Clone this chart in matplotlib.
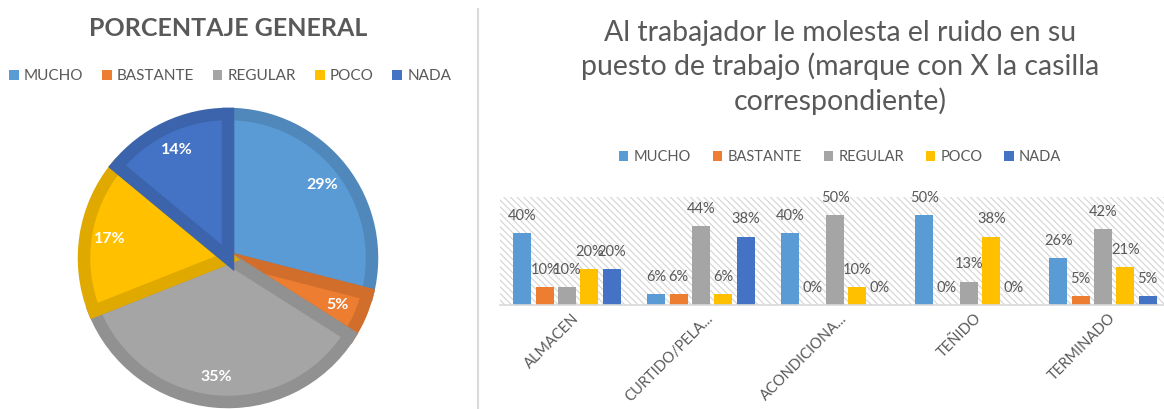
import numpy as np
import matplotlib
matplotlib.use("Agg")
import matplotlib.pyplot as plt
import matplotlib.transforms as mtransforms
from matplotlib.patches import Patch, Rectangle
from matplotlib.lines import Line2D
from matplotlib.colors import to_rgb

# ── data ──────────────────────────────────────────────────────────────────────
series_names = ["MUCHO", "BASTANTE", "REGULAR", "POCO", "NADA"]
series_colors = ["#5B9BD5", "#ED7D31", "#A5A5A5", "#FFC000", "#4472C4"]

pie_values = [29, 5, 35, 17, 14]

categories = ["ALMACEN", "CURTIDO/PELA...", "ACONDICIONA...", "TEÑIDO", "TERMINADO"]
mucho    = [40, 6, 40, 50, 26]
bastante = [10, 6, 0, 0, 5]
regular  = [10, 44, 50, 13, 42]
poco     = [20, 6, 10, 38, 21]
nada     = [20, 38, 0, 0, 5]

bar_title = ["Al trabajador le molesta el ruido en su",
             "puesto de trabajo (marque con X la casilla",
             "correspondiente)"]

TEXT = "#595959"
W, H = 1164, 409

plt.rcParams["font.family"] = ["Lato", "DejaVu Sans"]
plt.rcParams["hatch.linewidth"] = 0.8

fig = plt.figure(figsize=(W / 100, H / 100), dpi=100)


def darker(c, f=0.88):
    r, g, b = to_rgb(c)
    return (r * f, g * f, b * f)


# ── pie ───────────────────────────────────────────────────────────────────────
cx, cy, rad = 228, 258, 144
ax_pie = fig.add_axes([(cx - rad) / W, (H - cy - rad) / H, 2 * rad / W, 2 * rad / H])
wedges, _, autotexts = ax_pie.pie(
    pie_values, colors=series_colors, startangle=90, counterclock=False,
    radius=1, autopct=lambda p: f"{p:.0f}%", pctdistance=0.83,
    textprops=dict(color="white", fontsize=11.5, fontweight="bold"),
)
for w, c in zip(wedges, series_colors):
    w.set_edgecolor(darker(c))
    w.set_linewidth(9)
    w.set_clip_path(w)
ax_pie.set_xlim(-1, 1)
ax_pie.set_ylim(-1, 1)
ax_pie.set_aspect("equal")

fig.text(228 / W, 1 - 28 / H, "PORCENTAJE GENERAL", ha="center", va="center",
         fontsize=18, fontweight="bold", color=TEXT)

handles = [Patch(facecolor=c, edgecolor="none", label=n)
           for n, c in zip(series_names, series_colors)]
fig.legend(handles=handles, loc="center", bbox_to_anchor=(230 / W, 1 - 76 / H),
           ncol=5, frameon=False, fontsize=11, labelcolor=TEXT,
           handlelength=0.65, handleheight=0.65, handletextpad=0.35,
           columnspacing=1.2, borderaxespad=0, borderpad=0)

# separator
fig.add_artist(Line2D([478 / W, 478 / W], [0, 1 - 9 / H], color="#d9d9d9", lw=1.5))

# ── bar chart ─────────────────────────────────────────────────────────────────
x0, base, top = 500, 305, 197
step = 134
ax = fig.add_axes([x0 / W, (H - base) / H, 5 * step / W, (base - top) / H])
ax.set_xlim(-0.5, len(categories) - 0.5)
ax.set_ylim(0, 60)
ax.add_patch(Rectangle((0, 0), 1, 1, transform=ax.transAxes, facecolor="white",
                       edgecolor="#d4d4d4", hatch="\\\\\\\\\\", linewidth=0, zorder=0))

x = np.arange(len(categories))
bstep, bw = 0.1664, 0.134
for j, (vals, c) in enumerate(zip([mucho, bastante, regular, poco, nada], series_colors)):
    xs = x + (j - 2) * bstep
    ax.bar(xs, vals, width=bw, color=c, zorder=2)
    for xi, v in zip(xs, vals):
        ax.annotate(f"{v}%", (xi, v), xytext=(0, 9.5), textcoords="offset points",
                    ha="center", va="baseline", fontsize=10.5, color=TEXT)

for s in ["top", "right", "left"]:
    ax.spines[s].set_visible(False)
ax.spines["bottom"].set_color("#d9d9d9")
ax.spines["bottom"].set_linewidth(1.2)
ax.set_yticks([])
ax.set_xticks(x)
ax.set_xticklabels(categories, rotation=45, ha="right", va="center",
                   rotation_mode="anchor", fontsize=10.5, color=TEXT)
ax.tick_params(axis="x", length=0, pad=8)
shift = mtransforms.ScaledTranslation(10 / 100, 0, fig.dpi_scale_trans)
for lbl in ax.get_xticklabels():
    lbl.set_transform(lbl.get_transform() + shift)

for line, yb in zip(bar_title, [41, 75.5, 110]):
    fig.text(840 / W, 1 - yb / H, line, ha="center", va="baseline",
             fontsize=20.5, color=TEXT)

fig.legend(handles=handles, loc="center", bbox_to_anchor=(840 / W, 1 - 157 / H),
           ncol=5, frameon=False, fontsize=10.5, labelcolor=TEXT,
           handlelength=0.65, handleheight=0.65, handletextpad=0.35,
           columnspacing=1.5, borderaxespad=0, borderpad=0)

fig.savefig("out.png", dpi=100)
